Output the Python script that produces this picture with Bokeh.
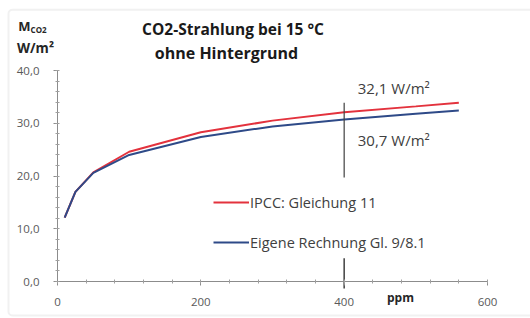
from bokeh.plotting import figure
from bokeh.models import (Label, Legend, LegendItem, Range1d, CustomJSTickFormatter,
                          FixedTicker, BoxAnnotation, LinearAxis)
from bokeh.embed import file_html
from bokeh.resources import INLINE

ppm = [10, 25, 50, 100, 200, 300, 400, 500, 560]
ipcc = [12.1, 17.0, 20.7, 24.6, 28.3, 30.5, 32.1, 33.2, 33.9]
eigene = [12.1, 17.0, 20.6, 24.0, 27.4, 29.4, 30.7, 31.8, 32.4]
x_ticks = [0, 200, 400, 600]
y_ticks = [0, 10, 20, 30, 40]
marker_ppm = [400]
marker_upper = ([33.9], [19.7])
marker_lower = ([4.4], [-1.3])

FONT = "Open Sans"
TXT = "#404040"

# frame spans the whole canvas; axes are pinned at x=0 / y=0
p = figure(width=530, height=318, output_backend="svg", toolbar_location=None,
           x_range=Range1d(-79.53, 660.0), y_range=Range1d(-7.01, 53.27),
           x_axis_type=None, y_axis_type=None,
           min_border=0, min_border_left=0, min_border_right=0,
           min_border_top=0, min_border_bottom=0)
p.outline_line_color = None

# chart-area border
p.add_layout(BoxAnnotation(left=-68.4, right=720, top=51.5, bottom=-6.45,
                           fill_alpha=0, line_color="#d2d2d2", line_width=2, border_radius=4))

xax = LinearAxis(fixed_location=0, bounds=(0, 600),
                 ticker=FixedTicker(ticks=x_ticks, minor_ticks=list(range(0, 601, 40))))
yax = LinearAxis(fixed_location=0, bounds=(0, 40),
                 ticker=FixedTicker(ticks=y_ticks, minor_ticks=list(range(0, 41, 2))),
                 formatter=CustomJSTickFormatter(code="return tick.toFixed(1).replace('.', ',');"))
for ax in (xax, yax):
    ax.axis_line_color = "#8c8c8c"
    ax.major_tick_line_color = "#8c8c8c"
    ax.minor_tick_line_color = "#a0a0a0"
    ax.major_label_text_font = FONT
    ax.major_label_text_font_size = "11.5px"
    ax.major_label_text_color = "#595959"
    ax.major_tick_in = 0
    ax.major_tick_out = 4
    ax.minor_tick_in = 2
    ax.minor_tick_out = 2
xax.major_label_standoff = 12
yax.major_label_standoff = 14
p.add_layout(xax, "below")
p.add_layout(yax, "left")

r_ipcc = p.line(ppm, ipcc, line_color="#e3323d", line_width=2)
r_eig = p.line(ppm, eigene, line_color="#2e4a88", line_width=2)

p.segment(x0=marker_ppm, x1=marker_ppm, y0=marker_upper[0], y1=marker_upper[1],
          line_color="#404040", line_width=1.2)
p.segment(x0=marker_ppm, x1=marker_ppm, y0=marker_lower[0], y1=marker_lower[1],
          line_color="#404040", line_width=1.5)

legend = Legend(items=[LegendItem(label="IPCC: Gleichung 11", renderers=[r_ipcc]),
                       LegendItem(label="Eigene Rechnung Gl. 9/8.1", renderers=[r_eig])],
                location=(213, 66), orientation="vertical",
                background_fill_alpha=0, border_line_color=None,
                padding=0, margin=0, spacing=20, label_height=20, glyph_height=20,
                glyph_width=36, label_standoff=1,
                label_text_font=FONT, label_text_font_size="14.5px", label_text_color=TXT)
p.add_layout(legend, "center")

def lab(x, y, text, size="12px", bold=False, align="left", color=TXT):
    p.add_layout(Label(x=x, y=y, text=text, text_font=FONT, text_font_size=size,
                       text_font_style="bold" if bold else "normal", text_align=align,
                       text_baseline="middle", text_color=color))

lab(419, 36.6, "32,1 W/m²", size="15px")
lab(419, 26.8, "30,7 W/m²", size="15px")
lab(244.9, 47.96, "CO2-Strahlung bei 15 °C", size="15.5px", bold=True, align="center", color="#1a1a1a")
lab(235.8, 43.41, "ohne Hintergrund", size="16px", bold=True, align="center", color="#1a1a1a")
lab(-37.5, 48.5, "M", size="13px", bold=True, align="right", color="#262626")
lab(-37.5, 47.75, "CO2", size="8px", bold=True, align="left", color="#262626")
lab(-30.7, 44.36, "W/m²", size="13.5px", bold=True, align="center", color="#262626")
lab(478.6, -3.03, "ppm", size="12px", bold=True, align="center", color="#262626")

open("out.html", "w").write(file_html(p, INLINE))
